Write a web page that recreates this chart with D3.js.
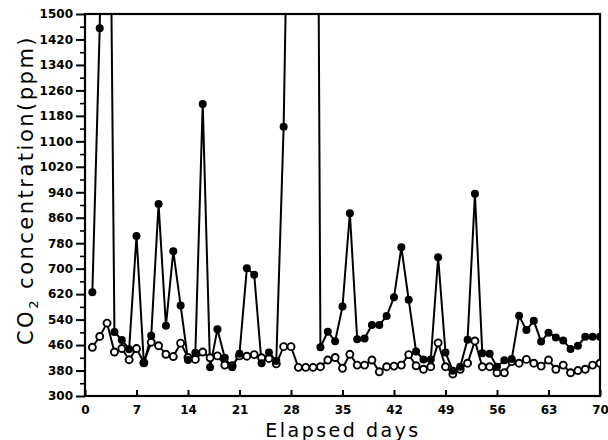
<!DOCTYPE html>
<html><head><meta charset="utf-8">
<script src="https://cdn.jsdelivr.net/npm/d3@7"></script>
<style>
html,body{margin:0;padding:0;background:#fff;}
svg{display:block;}
</style></head>
<body>
<svg id="chart" width="608" height="440"></svg>
<script>
// Elapsed days (1..70)
const days = d3.range(1, 71);
// Filled circles series (ppm); values > 1500 run off the top of the chart
const filledSeries = [626,1455,3000,501,476,447,803,403,489,903,
  521,755,584,413,436,1217,390,510,420,390,
  433,701,681,403,437,410,1146,2500,3000,3000,
  5000,453,502,472,581,874,478,481,523,523,
  551,610,767,602,440,415,415,736,437,379,
  392,477,935,434,433,392,412,416,552,507,
  536,471,499,484,474,448,458,486,486,486];
// Open circles series (ppm)
const openSeries = [453,487,529,438,449,414,449,405,469,458,
  431,424,466,421,415,438,420,426,397,395,
  426,425,430,420,418,401,455,455,390,390,
  390,392,413,421,387,431,397,397,413,376,
  392,394,397,430,395,384,392,467,392,369,
  384,403,473,392,392,373,373,408,403,415,
  403,394,413,384,397,373,380,384,397,403];
const xTicks = [0,7,14,21,28,35,42,49,56,63,70];
const yTicks = d3.range(300, 1501, 80);
const yMinorTicks = d3.range(340, 1500, 80);

const svg = d3.select("#chart");
const x = d3.scaleLinear().domain([0,70]).range([85,600]);
const y = d3.scaleLinear().domain([300,1500]).range([396,14]);

svg.append("defs").append("clipPath").attr("id","plot")
  .append("rect").attr("x",x(0)).attr("y",y(1500)).attr("width",x(70)-x(0)).attr("height",y(300)-y(1500));

const font = "'DejaVu Sans', sans-serif";

// Y axis
const yAxis = svg.append("g").attr("transform",`translate(${x(0)},0)`)
  .call(d3.axisLeft(y).tickValues(yTicks).tickSize(9).tickPadding(3).tickFormat(d3.format("d")));
yAxis.select(".domain").remove();
yAxis.selectAll("line").attr("stroke","#000").attr("stroke-width",2);
yAxis.selectAll("text").attr("font-family",font).attr("font-weight","bold").attr("font-size",12).attr("fill","#000");
const yMinor = svg.append("g").attr("transform",`translate(${x(0)},0)`)
  .call(d3.axisLeft(y).tickValues(yMinorTicks).tickSize(5).tickFormat(""));
yMinor.select(".domain").remove();
yMinor.selectAll("line").attr("stroke","#000").attr("stroke-width",1.6);

// X axis (ticks pointing inward)
const xAxis = svg.append("g").attr("transform",`translate(0,${y(300)})`)
  .call(d3.axisBottom(x).tickValues(xTicks).tickSize(-6).tickPadding(9).tickFormat(d3.format("d")));
xAxis.select(".domain").remove();
xAxis.selectAll("line").attr("stroke","#000").attr("stroke-width",2);
xAxis.selectAll("text").attr("font-family",font).attr("font-weight","bold").attr("font-size",12).attr("fill","#000");

// Frame
svg.append("rect").attr("x",x(0)).attr("y",y(1500)).attr("width",x(70)-x(0)).attr("height",y(300)-y(1500))
  .attr("fill","none").attr("stroke","#000").attr("stroke-width",2.2);

const plot = svg.append("g").attr("clip-path","url(#plot)");
const line = d3.line().x((d,i)=>x(days[i])).y(d=>y(d));

plot.append("path").datum(openSeries).attr("d",line).attr("fill","none").attr("stroke","#000").attr("stroke-width",2);
plot.append("path").datum(filledSeries).attr("d",line).attr("fill","none").attr("stroke","#000").attr("stroke-width",2);

plot.selectAll("circle.open").data(openSeries).enter().append("circle").attr("class","open")
  .attr("cx",(d,i)=>x(days[i])).attr("cy",d=>y(d)).attr("r",3.5)
  .attr("fill","#fff").attr("stroke","#000").attr("stroke-width",1.9);
plot.selectAll("circle.filled").data(filledSeries).enter().append("circle").attr("class","filled")
  .attr("cx",(d,i)=>x(days[i])).attr("cy",d=>y(d)).attr("r",4)
  .attr("fill","#000");

// Axis titles
svg.append("text").attr("x",343).attr("y",437).attr("text-anchor","middle")
  .attr("font-family",font).attr("font-size",19).attr("letter-spacing",2.5).attr("fill","#000")
  .text("Elapsed  days");

const yt = svg.append("text").attr("transform","translate(33,190) rotate(-90)").attr("text-anchor","middle")
  .attr("font-family",font).attr("font-size",21).attr("letter-spacing",2.5).attr("fill","#000");
yt.append("tspan").text("CO");
yt.append("tspan").attr("font-size",13).attr("dy",5).text("2");
yt.append("tspan").attr("dy",-5).text("  concentration(ppm)");
</script>
</body></html>
